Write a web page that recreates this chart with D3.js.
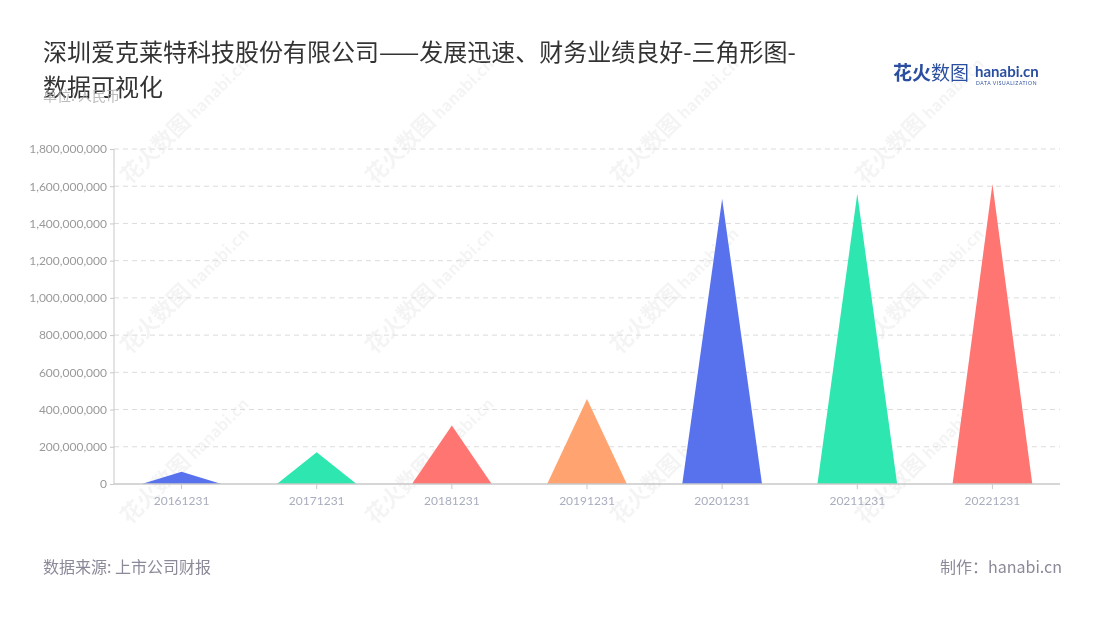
<!DOCTYPE html>
<html><head><meta charset="utf-8">
<script src="https://cdn.jsdelivr.net/npm/d3@7"></script>
<style>
body{margin:0;background:#fff;}
svg{display:block;font-family:"Noto Sans CJK SC","Noto Sans",sans-serif;}
</style></head>
<body><svg id="c" width="1100" height="620"></svg>
<script>
const categories = ["20161231","20171231","20181231","20191231","20201231","20211231","20221231"];
const values = [66000000,170000000,315000000,457000000,1533000000,1560000000,1612000000];
const colors = ["#5872EE","#2EE6B0","#FF7571","#FFA371","#5872EE","#2EE6B0","#FF7571"];
const yTicks = [0,200000000,400000000,600000000,800000000,1000000000,1200000000,1400000000,1600000000,1800000000];
const titleLines = ["深圳爱克莱特科技股份有限公司——发展迅速、财务业绩良好-三角形图-","数据可视化"];
const unitText = "单位: 人民币";
const sourceText = "数据来源: 上市公司财报";
const makerText = "制作：hanabi.cn";

const svg = d3.select("#c");
const m = {left:114, right:1060, top:149, bottom:484};

// watermarks
const wm = svg.append("g").attr("opacity",0.045);
[150,320,490].forEach(y=>{
  [165,410,655,900].forEach(x=>{
    const g = wm.append("g").attr("transform",`translate(${x},${y}) rotate(-45)`);
    g.append("text").attr("x",-50).attr("y",0).attr("font-size",22).attr("font-weight","bold").attr("fill","#000").text("花火数图");
    g.append("text").attr("x",42).attr("y",0).attr("font-size",16).attr("font-weight","bold").attr("fill","#000").text("hanabi.cn");
  });
});

const x = d3.scaleBand().domain(categories).range([m.left,m.right]).paddingInner(0).paddingOuter(0);
const y = d3.scaleLinear().domain([0,1800000000]).range([m.bottom,m.top]);

// grid
svg.append("g").selectAll("line").data(yTicks.slice(1)).join("line")
  .attr("x1",m.left).attr("x2",m.right)
  .attr("y1",d=>y(d)).attr("y2",d=>y(d))
  .attr("stroke","#dcdcdc").attr("stroke-dasharray","5,4");

// y axis
const yAxis = svg.append("g").attr("transform",`translate(${m.left},0)`)
  .call(d3.axisLeft(y).tickValues(yTicks).tickFormat(d3.format(",")).tickSize(4).tickPadding(3));
yAxis.select(".domain").attr("stroke","#c8c8c8").attr("d",`M0,${m.top}V${m.bottom}`);
yAxis.selectAll(".tick line").attr("stroke","#c8c8c8");
yAxis.selectAll("text").attr("fill","#9a9a9a").attr("font-size",12).attr("font-family","Lato, 'Noto Sans', sans-serif");

// triangles
const bw = x.bandwidth()*0.59;
svg.append("g").selectAll("path").data(categories).join("path")
  .attr("d",(c,i)=>{
    const cx = x(c)+x.bandwidth()/2;
    return `M${cx-bw/2},${y(0)}L${cx},${y(values[i])}L${cx+bw/2},${y(0)}Z`;
  })
  .attr("fill",(c,i)=>colors[i]);

// x axis
const xAxis = svg.append("g").attr("transform",`translate(0,${m.bottom})`)
  .call(d3.axisBottom(x).tickSize(5).tickPadding(7));
xAxis.select(".domain").attr("stroke","#c8c8c8").attr("d",`M${m.left},0H${m.right}`).attr("stroke-width",1.5);
xAxis.selectAll(".tick line").attr("stroke","#c8c8c8");
xAxis.selectAll("text").attr("fill","#a9adbd").attr("font-size",12).attr("font-family","Lato, 'Noto Sans', sans-serif");

// title
svg.append("g").selectAll("text").data(titleLines).join("text")
  .attr("x",43).attr("y",(d,i)=>61+i*35)
  .attr("font-size",24).attr("fill","#333").text(d=>d);
svg.append("text").attr("x",43).attr("y",101).attr("font-size",14).attr("fill","#aaa").attr("opacity",0.8).text(unitText);

// footer
svg.append("text").attr("x",43).attr("y",573).attr("font-size",16).attr("fill","#8a8a99").text(sourceText);
svg.append("text").attr("x",1062).attr("y",573).attr("text-anchor","end").attr("font-size",16).attr("fill","#8a8a99").text(makerText);

// logo
const lg = svg.append("g");
lg.append("text").attr("x",893).attr("y",80).attr("font-size",19).attr("font-weight","bold").attr("fill","#2b4fa0").text("花火");
lg.append("text").attr("x",931).attr("y",80).attr("font-size",19).attr("fill","#2b4fa0").text("数图");
lg.append("text").attr("x",975).attr("y",77).attr("font-size",15).attr("font-weight","bold").attr("fill","#2b4fa0").attr("font-family","Lato, sans-serif").text("hanabi.cn");
lg.append("text").attr("x",976).attr("y",85).attr("font-size",5).attr("fill","#2b4fa0").attr("letter-spacing",0.6).attr("font-family","Lato, sans-serif").text("DATA VISUALIZATION");
</script></body></html>
